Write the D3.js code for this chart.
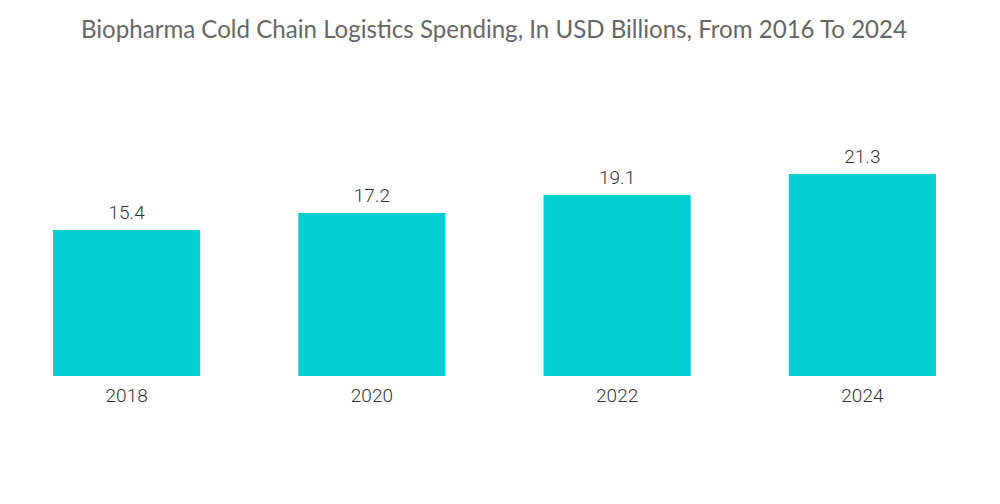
<!DOCTYPE html>
<html>
<head>
<meta charset="utf-8">
<script src="https://cdn.jsdelivr.net/npm/d3@7"></script>
<style>
  body { margin: 0; background: #fff; }
  .title { font-family: Lato, "Open Sans", sans-serif; fill: #666; }
  .val, .tick text { font-family: Roboto, sans-serif; font-weight: 300; fill: #333; }
</style>
</head>
<body>
<svg id="chart" width="1000" height="504"></svg>
<script>
const years = ["2018", "2020", "2022", "2024"];
const spending = [15.4, 17.2, 19.1, 21.3];
const title = "Biopharma Cold Chain Logistics Spending, In USD Billions, From 2016 To 2024";

const W = 1000, H = 504;
const baseY = 376;

const svg = d3.select("#chart");

svg.append("text")
    .attr("class", "title")
    .attr("x", W / 2 - 6)
    .attr("y", 38)
    .attr("text-anchor", "middle")
    .style("font-size", "24.1px")
    .text(title);

const x = d3.scaleBand()
    .domain(years)
    .range([4, 985])
    .paddingInner(0.4)
    .paddingOuter(0.2);

// 15.4 -> 146px tall, so about 9.48 px per unit
const y = d3.scaleLinear()
    .domain([0, 30])
    .range([baseY, baseY - 30 * 9.48]);

const data = years.map((yr, i) => ({ year: yr, value: spending[i] }));

svg.selectAll(".bar")
    .data(data)
    .enter()
  .append("rect")
    .attr("class", "bar")
    .attr("x", d => x(d.year))
    .attr("y", d => y(d.value))
    .attr("width", x.bandwidth())
    .attr("height", d => baseY - y(d.value))
    .attr("fill", "#00ced1");

svg.selectAll(".val")
    .data(data)
    .enter()
  .append("text")
    .attr("class", "val")
    .attr("x", d => x(d.year) + x.bandwidth() / 2)
    .attr("y", d => y(d.value) - 11)
    .attr("text-anchor", "middle")
    .style("font-size", "19px")
    .text(d => d.value.toFixed(1));

const xAxis = svg.append("g")
    .attr("transform", `translate(0,${baseY})`)
    .call(d3.axisBottom(x).tickSize(0).tickPadding(13));
xAxis.select(".domain").remove();
xAxis.selectAll("text").style("font-size", "19px").attr("dy", "0.71em");
</script>
</body>
</html>
